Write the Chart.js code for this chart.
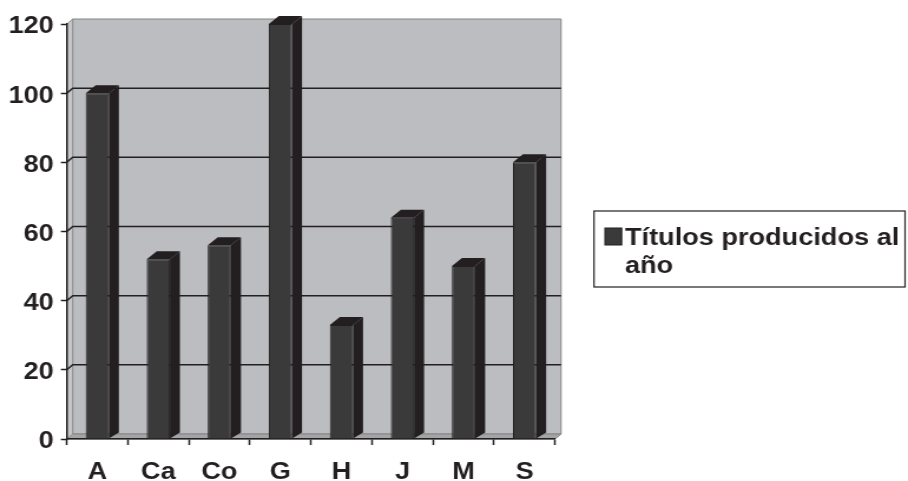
<!DOCTYPE html>
<html lang="es">
<head>
<meta charset="utf-8">
<title>Títulos producidos al año</title>
<script src="https://cdn.jsdelivr.net/npm/chart.js@4.4.1/dist/chart.umd.min.js"></script>
<style>
  html, body { margin: 0; padding: 0; background: #ffffff; }
</style>
</head>
<body>
<!-- drawn on a 770-unit-wide canvas, shown widened to 908px -->
<canvas id="chart" width="770" height="481" style="display:block;width:908px;height:481px"></canvas>
<script>
// Data
const categories = ['A', 'Ca', 'Co', 'G', 'H', 'J', 'M', 'S'];
const titlesPerYear = [100, 52, 56, 120, 33, 64, 50, 80];
const seriesLabel = 'Títulos producidos al año';
const yTickValues = [0, 20, 40, 60, 80, 100, 120];

// Styling / 3D look
const INK = '#231f20';
const BAR_FRONT = '#3a3a3a';
const WALL = '#bcbdc1';
const SIDE_WALL = '#c6c7ca';
const FLOOR = '#a4a4a6';
const WALL_EDGE = '#858585';
const WALL_DX = 5.1, WALL_DY = 5;        // depth of the back wall
const BAR_DX = 8.5, BAR_DY = 8, BAR_DYB = 6; // depth of each column
const FONT = { family: '"Liberation Sans", Arial, Helvetica, sans-serif', size: 23, weight: 'bold' };

function poly(ctx, pts, fill, stroke, lw) {
  ctx.beginPath();
  ctx.moveTo(pts[0][0], pts[0][1]);
  for (let i = 1; i < pts.length; i++) ctx.lineTo(pts[i][0], pts[i][1]);
  ctx.closePath();
  if (fill) { ctx.fillStyle = fill; ctx.fill(); }
  if (stroke) { ctx.strokeStyle = stroke; ctx.lineWidth = lw || 1; ctx.stroke(); }
}

// Back wall, side wall, floor and the gridlines on the walls
const wallsPlugin = {
  id: 'walls',
  beforeDraw(chart) {
    const { ctx, chartArea: a, scales } = chart;
    const y = scales.y;
    const L = a.left, R = a.right, T = a.top, B = a.bottom;
    ctx.save();
    // left side wall
    poly(ctx, [[L, T], [L + WALL_DX, T - WALL_DY], [L + WALL_DX, B - WALL_DY], [L, B]], SIDE_WALL, null);
    // back wall
    poly(ctx, [[L + WALL_DX, T - WALL_DY], [R + WALL_DX, T - WALL_DY], [R + WALL_DX, B - WALL_DY], [L + WALL_DX, B - WALL_DY]], WALL, WALL_EDGE, 1);
    // floor
    poly(ctx, [[L, B], [L + WALL_DX, B - WALL_DY], [R + WALL_DX, B - WALL_DY], [R, B]], FLOOR, WALL_EDGE, 1);
    // side wall top edge
    ctx.beginPath();
    ctx.moveTo(L, T); ctx.lineTo(L + WALL_DX, T - WALL_DY);
    ctx.strokeStyle = WALL_EDGE; ctx.lineWidth = 1; ctx.stroke();
    // gridlines
    ctx.strokeStyle = INK;
    ctx.lineWidth = 1.5;
    yTickValues.forEach(v => {
      if (v === y.min || v === y.max) return;
      const py = y.getPixelForValue(v);
      ctx.beginPath();
      ctx.moveTo(L, py);
      ctx.lineTo(L + WALL_DX, py - WALL_DY);
      ctx.lineTo(R + WALL_DX, py - WALL_DY);
      ctx.stroke();
    });
    ctx.restore();
  },
  // side and top faces of the columns, drawn behind the front faces
  beforeDatasetsDraw(chart) {
    const { ctx } = chart;
    ctx.save();
    chart.getDatasetMeta(0).data.forEach(el => {
      const p = el.getProps(['x', 'y', 'base', 'width'], true);
      const l = p.x - p.width / 2, r = p.x + p.width / 2;
      poly(ctx, [[r, p.y], [r + BAR_DX, p.y - BAR_DY], [r + BAR_DX, p.base - BAR_DYB], [r, p.base]], INK, null);
      poly(ctx, [[l, p.y], [l + BAR_DX, p.y - BAR_DY], [r + BAR_DX, p.y - BAR_DY], [r, p.y]], INK, null);
    });
    ctx.restore();
  },
  // boxed legend with wrapped label
  afterDraw(chart) {
    const { ctx } = chart;
    const ds = chart.data.datasets[0];
    const box = { x: 503.7, y: 211, w: 263.8, h: 76 };
    const textX = 530, firstBaseline = 245, lineGap = 27.7;
    ctx.save();
    ctx.fillStyle = '#ffffff';
    ctx.fillRect(box.x, box.y, box.w, box.h);
    ctx.strokeStyle = INK;
    ctx.lineWidth = 1.2;
    ctx.strokeRect(box.x, box.y, box.w, box.h);
    ctx.fillStyle = ds.backgroundColor;
    ctx.fillRect(513, 228, 14.2, 17);
    ctx.strokeStyle = INK;
    ctx.lineWidth = 1;
    ctx.strokeRect(513, 228, 14.2, 17);
    ctx.font = `${FONT.weight} ${FONT.size}px ${FONT.family}`;
    ctx.fillStyle = INK;
    ctx.textBaseline = 'alphabetic';
    ctx.textAlign = 'left';
    const maxW = box.x + box.w - textX - 1;
    const lines = [];
    let cur = '';
    ds.label.split(' ').forEach(w => {
      const t = cur ? cur + ' ' + w : w;
      if (ctx.measureText(t).width > maxW && cur) { lines.push(cur); cur = w; } else cur = t;
    });
    if (cur) lines.push(cur);
    lines.forEach((ln, i) => ctx.fillText(ln, textX, firstBaseline + i * lineGap));
    ctx.restore();
  }
};

new Chart(document.getElementById('chart'), {
  type: 'bar',
  data: {
    labels: categories,
    datasets: [{
      label: seriesLabel,
      data: titlesPerYear,
      backgroundColor: BAR_FRONT,
      borderColor: INK,
      borderWidth: 1,
      barPercentage: 0.38,
      categoryPercentage: 1
    }]
  },
  options: {
    responsive: false,
    animation: false,
    events: [],
    layout: { padding: { top: 24, right: 299.3, bottom: 0, left: 0 } },
    plugins: { legend: { display: false }, tooltip: { enabled: false } },
    scales: {
      x: {
        grid: { display: true, drawOnChartArea: false, drawTicks: true, tickLength: 6, tickColor: INK, tickWidth: 1.5, offset: true },
        border: { display: true, color: INK, width: 1.5 },
        ticks: { color: INK, font: FONT, padding: 14, maxRotation: 0 },
        afterFit(scale) { scale.height = 42; }
      },
      y: {
        min: 0,
        max: 120,
        afterBuildTicks(scale) { scale.ticks = yTickValues.map(v => ({ value: v })); },
        grid: { display: true, drawOnChartArea: false, drawTicks: true, tickLength: 5, tickColor: INK, tickWidth: 1.5 },
        border: { display: true, color: INK, width: 1.5 },
        ticks: { color: INK, font: FONT, padding: 6, labelOffset: 3 },
        afterFit(scale) { scale.width = 56.6; }
      }
    }
  },
  plugins: [wallsPlugin]
});
</script>
</body>
</html>
